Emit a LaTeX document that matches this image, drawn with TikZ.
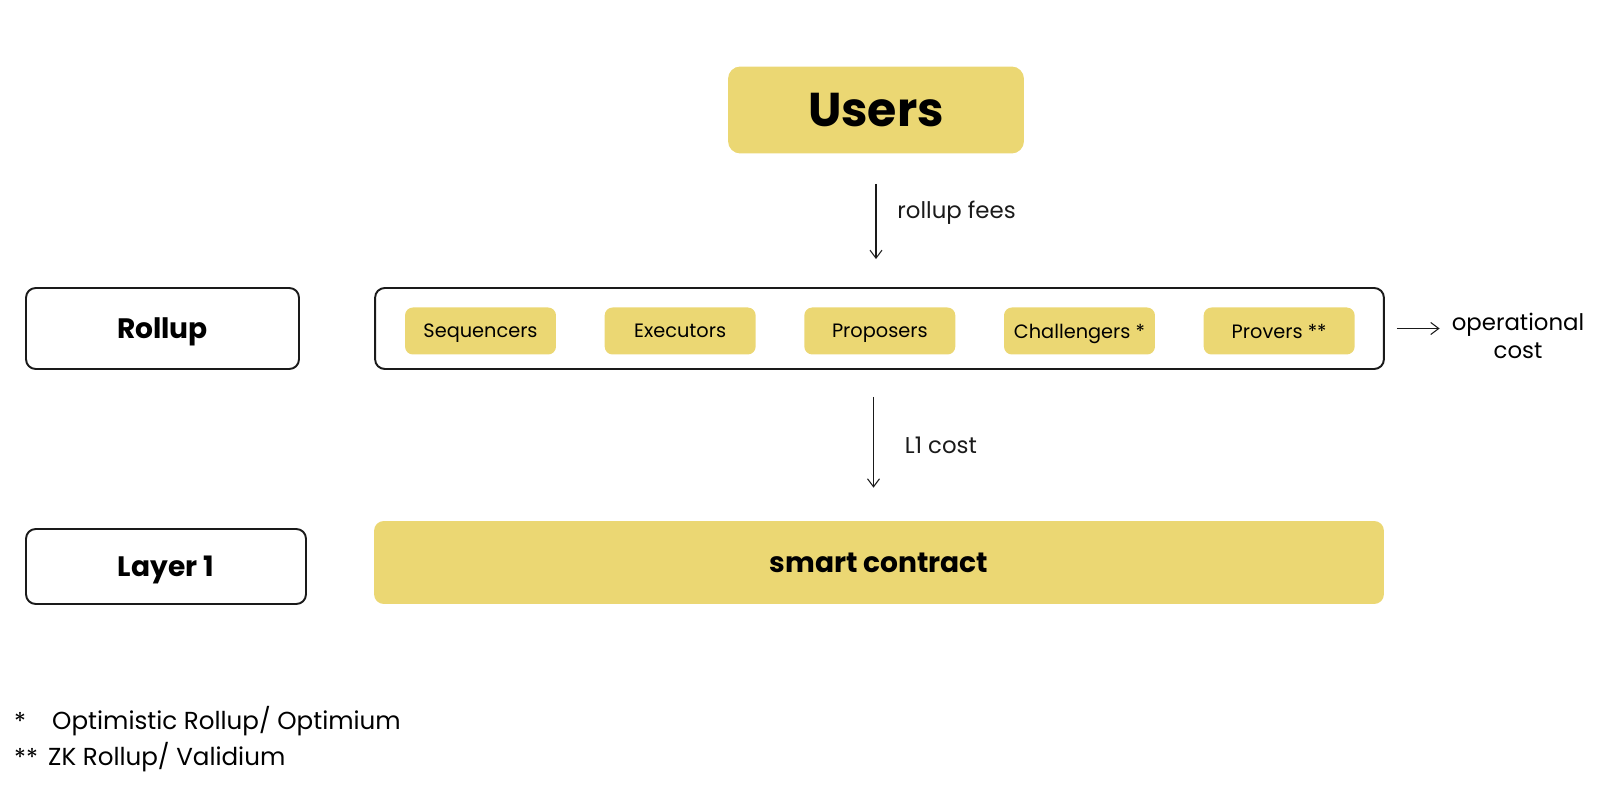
\documentclass[tikz,border=0pt]{standalone}
\usepackage{fontspec}
\setmainfont{Poppins}
\usetikzlibrary{arrows.meta, positioning}
\definecolor{rollupyellow}{HTML}{EBD773}
\definecolor{rollupline}{HTML}{1A1A1A}

\begin{document}
\begin{tikzpicture}[
        x=0.02cm, y=-0.02cm,
        yellowbox/.style={
            fill=rollupyellow,
            rounded corners=4.5pt,
            minimum width=3.02cm,
            minimum height=0.94cm,
            text depth=0pt,
            font=\fontsize{11}{13}\selectfont
        },
        layerbox/.style={
            draw=rollupline,
            line width=1.1pt,
            rounded corners=5.5pt,
            minimum height=1.62cm,
            text depth=0pt,
            font=\fontsize{16}{19}\selectfont\bfseries
        },
        costlink/.style={-{Straight Barb[length=1.6mm, width=2.4mm]}, line width=0.6pt, rollupline},
        costlabel/.style={font=\fontsize{13}{16}\selectfont}
    ]
        \useasboundingbox (0,0) rectangle (1600,786);

        \node[fill=rollupyellow, rounded corners=7pt, minimum width=5.92cm, minimum height=1.74cm,
            text depth=0pt, font=\fontsize{27}{32}\selectfont\bfseries] (users) at (876,110) {Users};

        \node[layerbox, minimum width=20.18cm] (rollupbox) at (879.5,328.5) {};
        \node[layerbox, minimum width=5.46cm] (rollup) at (162.5,328.5) {Rollup};
        \node[layerbox, minimum width=5.6cm, minimum height=1.5cm] (layerone) at (166,566.5) {Layer 1};
        \node[fill=rollupyellow, rounded corners=5.5pt, minimum width=20.2cm, minimum height=1.66cm,
            text depth=0pt, font=\fontsize{16}{19}\selectfont\bfseries] (contract) at (879,562.5) {smart contract};

        \node[yellowbox] (sequencers) at (480.5,331) {Sequencers};
        \node[yellowbox, right=0.96cm of sequencers] (executors) {Executors};
        \node[yellowbox, right=0.96cm of executors] (proposers) {Proposers};
        \node[yellowbox, right=0.96cm of proposers] (challengers) {Challengers *};
        \node[yellowbox, right=0.96cm of challengers] (provers) {Provers **};

        \node[costlabel, align=center] (opcost) at (1518,336) {operational\\cost};

        \draw[costlink, shorten <=0.6cm, shorten >=0.56cm]
            (users.south) -- (users.south |- rollupbox.north)
            node[pos=0.44, right=0.3cm, costlabel] {rollup fees};
        \draw[costlink, shorten <=0.54cm, shorten >=0.66cm]
            ([xshift=-0.12cm]rollupbox.south) -- ([xshift=-0.12cm]rollupbox.south |- contract.north)
            node[midway, right=0.5cm, costlabel] {L1 cost};
        \draw[costlink, shorten <=0.24cm, shorten >=0.12cm]
            (rollupbox.east) -- (rollupbox.east -| opcost.west);

        % footnotes
        \node[anchor=west, font=\fontsize{14}{17}\selectfont] (starone) at (8,721) {*};
        \node[anchor=west, font=\fontsize{14}{17}\selectfont] (noteone) at (46,721) {Optimistic Rollup/ Optimium};
        \node[anchor=west, font=\fontsize{14}{17}\selectfont] (startwo) at (8,757) {**};
        \node[anchor=west, font=\fontsize{14}{17}\selectfont] (notetwo) at (42,757) {ZK Rollup/ Validium};
    \end{tikzpicture}
\end{document}
